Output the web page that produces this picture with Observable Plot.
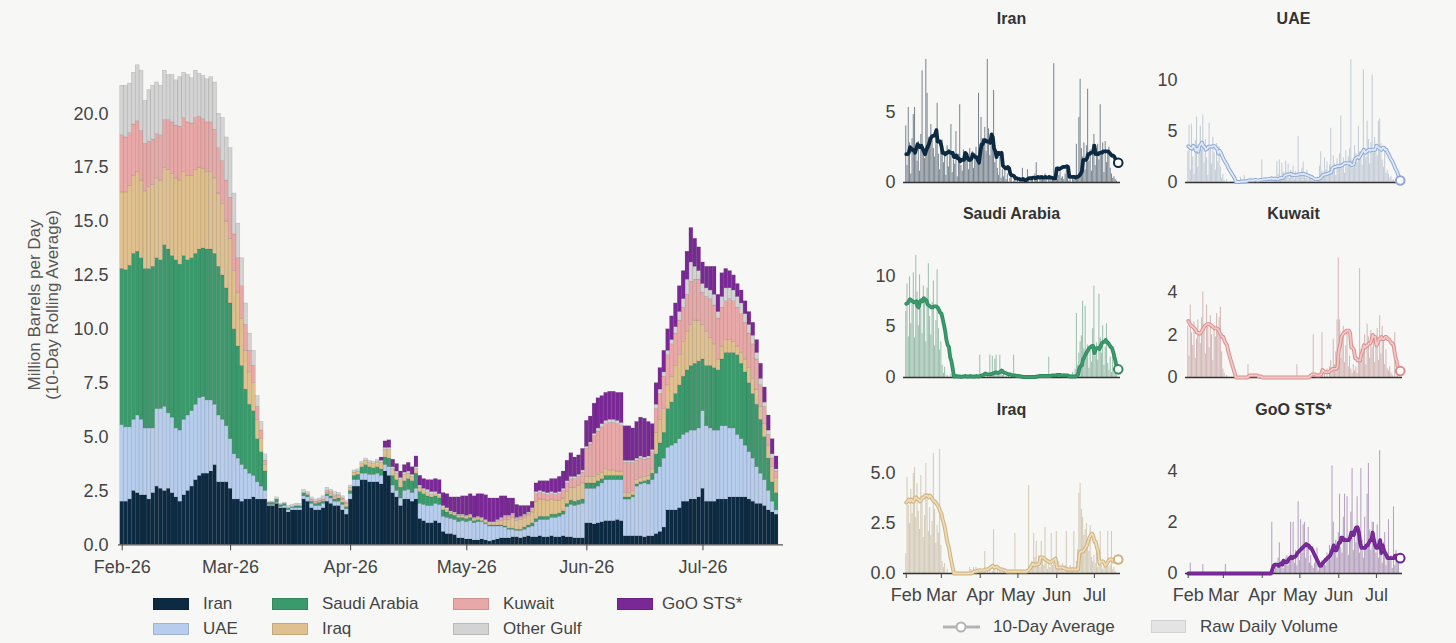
<!DOCTYPE html>
<html><head><meta charset="utf-8">
<script src="https://cdn.jsdelivr.net/npm/d3@7"></script>
<script src="https://cdn.jsdelivr.net/npm/@observablehq/plot@0.6"></script>
<style>
body{margin:0;background:#f7f8f6;font-family:"Liberation Sans",Arial,sans-serif;}
#root{position:relative;width:1456px;height:643px;overflow:hidden;background:#f7f8f6;}
.abs{position:absolute;}
.lbl{position:absolute;font-size:17px;line-height:20px;color:#444;white-space:nowrap;}
.sw{position:absolute;width:36px;height:12px;box-sizing:border-box;border:1px solid rgba(0,0,0,0.12);}
.ttl{position:absolute;font-size:16px;font-weight:bold;line-height:20px;color:#333;transform:translateX(-50%);white-space:nowrap;}
</style></head><body><div id="root"></div>
<script>
// ---------- DATA: 10-day rolling averages (million b/d), daily from 2026-02-01 ----------
const seriesNames = ["Iran","UAE","Saudi Arabia","Iraq","Kuwait","Other Gulf","GoO STS*"];
const seriesColors = ["#0c2a42","#b7cdee","#3a9a6c","#dfc08e","#e8a8a7","#d3d3d3","#7a2896"];

const iran = [
2.0,2.0,2.1,2.5,2.4,2.3,2.3,2.1,2.4,2.7,
2.6,2.5,2.6,2.4,2.2,2.0,2.3,2.5,2.7,3.0,
3.2,3.3,3.3,3.4,3.7,2.9,2.9,2.9,2.6,2.1,
2.1,2.0,2.1,2.1,2.2,2.1,2.1,2.1,1.8,1.8,
1.9,1.7,1.7,1.5,1.6,1.6,1.6,2.1,2.0,1.7,
1.6,1.6,1.7,2.0,1.9,1.8,1.8,1.6,1.4,2.1,
2.7,2.7,3.0,3.0,2.9,2.9,2.9,2.8,3.4,3.2,
2.4,2.2,1.8,2.1,2.1,2.0,2.1,1.2,1.1,1.0,
1.0,1.1,1.0,0.6,0.5,0.5,0.45,0.3,0.3,0.25,
0.25,0.2,0.2,0.25,0.2,0.15,0.2,0.25,0.3,0.3,
0.3,0.35,0.35,0.3,0.35,0.4,0.35,0.35,0.4,0.35,
0.35,0.4,0.35,0.35,0.4,0.35,0.35,0.3,0.3,0.3,
1.0,1.0,0.95,1.0,1.05,1.1,1.1,1.1,1.15,1.1,
0.4,0.4,0.4,0.4,0.4,0.35,0.4,0.4,0.5,0.6,
0.8,1.6,1.6,1.6,1.7,2.0,2.0,2.1,2.1,2.2,
2.6,2.0,2.0,2.0,2.1,2.1,2.1,2.2,2.2,2.2,
2.2,2.2,2.1,2.0,1.9,1.9,1.8,1.6,1.5,1.4];

const uae = [
3.55,3.45,3.35,3.3,3.6,3.5,3.1,3.3,3.0,3.6,
3.7,3.9,3.5,3.5,3.2,3.3,3.5,3.5,3.5,3.5,
3.6,3.55,3.4,3.3,2.8,3.1,2.9,2.6,2.3,2.1,
1.9,1.7,1.4,1.2,1.0,0.8,0.6,0.4,0.05,0.05,
0.05,0.05,0.1,0.1,0.1,0.1,0.1,0.15,0.2,0.2,
0.2,0.2,0.2,0.25,0.25,0.2,0.2,0.25,0.25,0.25,
0.3,0.3,0.3,0.3,0.35,0.35,0.4,0.4,0.3,0.4,
0.35,0.3,0.35,0.4,0.45,0.4,0.5,0.7,0.75,0.8,
0.8,0.8,0.85,0.7,0.75,0.7,0.7,0.75,0.8,0.8,
0.85,0.8,0.85,0.8,0.75,0.7,0.65,0.6,0.55,0.5,
0.4,0.35,0.3,0.35,0.35,0.4,0.5,0.7,0.75,0.8,
0.8,0.85,0.9,0.95,1.0,1.4,1.5,1.5,1.55,1.6,
1.6,1.6,1.65,1.7,1.8,1.9,1.9,1.9,1.85,1.9,
1.7,1.7,1.8,2.3,2.4,2.5,2.4,2.6,2.8,3.0,
3.2,2.9,3.0,3.1,3.2,3.1,3.2,3.2,3.2,3.2,
3.6,3.5,3.4,3.3,3.2,3.4,3.4,3.2,3.2,2.9,
2.7,2.4,2.2,2.0,1.7,1.4,1.2,0.9,0.5,0.2];

const saudi = [
7.25,7.3,7.5,7.7,7.6,7.5,7.4,7.4,7.5,7.0,
6.9,7.5,7.6,7.5,7.8,7.7,7.6,7.2,7.1,7.0,
6.9,6.9,7.0,7.0,7.0,6.9,6.7,6.4,6.3,5.8,
5.2,4.6,3.7,3.2,3.0,2.0,1.6,0.9,0.1,0.1,
0.15,0.1,0.1,0.1,0.05,0.1,0.1,0.15,0.1,0.1,
0.1,0.15,0.1,0.1,0.1,0.1,0.15,0.1,0.1,0.15,
0.2,0.25,0.3,0.4,0.35,0.3,0.3,0.3,0.35,0.4,
0.45,0.5,0.5,0.45,0.5,0.55,0.7,0.55,0.5,0.45,
0.4,0.35,0.3,0.3,0.25,0.2,0.2,0.2,0.15,0.15,
0.15,0.1,0.1,0.05,0.05,0.05,0.05,0.05,0.05,0.05,
0.05,0.05,0.05,0.05,0.1,0.1,0.15,0.15,0.15,0.15,
0.15,0.15,0.15,0.15,0.15,0.15,0.2,0.2,0.2,0.2,
0.25,0.25,0.25,0.25,0.2,0.2,0.2,0.2,0.2,0.2,
0.1,0.1,0.1,0.1,0.1,0.1,0.2,0.3,0.9,1.1,
1.2,1.8,2.0,2.3,2.5,2.7,2.9,3.0,3.1,3.1,
2.4,2.8,2.9,2.9,2.8,3.1,3.4,3.5,3.5,3.7,
3.5,3.4,3.2,3.0,2.9,2.5,2.0,1.5,0.9,0.8];

const iraq = [
3.55,3.6,3.7,3.6,3.7,3.6,3.6,3.8,3.8,3.7,
3.7,3.6,3.7,3.8,3.8,3.9,3.9,3.9,3.8,3.9,
3.8,3.7,3.6,3.6,3.5,3.4,3.3,3.1,3.0,2.7,
2.5,2.2,1.8,1.5,1.3,0.9,0.6,0.3,0.0,0.0,
0.0,0.0,0.0,0.0,0.0,0.0,0.0,0.0,0.0,0.0,
0.0,0.0,0.0,0.05,0.1,0.1,0.1,0.15,0.15,0.15,
0.15,0.15,0.15,0.2,0.2,0.2,0.25,0.3,0.35,0.4,
0.3,0.3,0.35,0.3,0.25,0.2,0.2,0.2,0.15,0.15,
0.1,0.1,0.1,0.1,0.1,0.1,0.1,0.1,0.1,0.1,
0.1,0.1,0.1,0.1,0.1,0.1,0.1,0.15,0.2,0.3,
0.4,0.5,0.4,0.45,0.45,0.45,0.5,0.8,0.8,0.8,
0.75,0.7,0.65,0.6,0.6,0.55,0.6,0.65,0.7,0.75,
0.3,0.3,0.3,0.3,0.3,0.3,0.25,0.25,0.2,0.2,
0.2,0.2,0.2,0.2,0.2,0.2,0.2,0.2,1.0,1.1,
1.1,1.1,1.2,1.3,1.4,1.6,1.8,1.9,2.0,1.9,
1.6,1.6,1.3,1.1,0.5,0.6,0.6,0.6,0.5,0.4,
0.5,0.6,0.7,0.7,0.7,0.6,0.6,0.6,0.7,0.7];

const kuwait = [
2.65,2.55,2.45,2.4,2.35,2.3,2.2,2.1,2.1,2.05,
2.1,2.2,2.3,2.4,2.45,2.5,2.5,2.5,2.45,2.4,
2.35,2.3,2.3,2.3,2.25,2.1,2.0,1.9,1.9,1.7,
1.6,1.5,1.2,1.0,0.8,0.6,0.4,0.2,0.0,0.0,
0.0,0.0,0.0,0.0,0.0,0.0,0.0,0.0,0.05,0.1,
0.1,0.1,0.1,0.1,0.1,0.1,0.05,0.05,0.05,0.0,
0.0,0.0,0.0,0.0,0.0,0.0,0.0,0.0,0.0,0.0,
0.0,0.0,0.0,0.0,0.0,0.0,0.0,0.0,0.0,0.0,
0.0,0.0,0.0,0.0,0.0,0.0,0.0,0.0,0.0,0.0,
0.0,0.0,0.0,0.0,0.0,0.0,0.0,0.05,0.1,0.15,
0.15,0.15,0.1,0.1,0.1,0.1,0.15,0.35,0.3,0.25,
0.25,0.25,0.25,0.3,0.35,0.4,0.4,0.4,0.4,0.5,
1.3,1.5,1.9,2.0,2.1,2.1,2.2,2.2,2.2,2.1,
1.4,1.4,1.3,0.9,0.9,0.8,0.8,0.8,1.1,1.2,
1.5,1.4,1.5,1.5,1.6,1.6,1.7,2.0,1.9,1.9,
1.5,1.6,1.8,1.8,1.9,1.8,1.8,1.9,1.9,1.8,
1.8,1.7,1.6,1.6,1.4,1.0,0.8,0.5,0.4,0.3];

const otherGulf = [
2.3,2.4,2.3,2.4,2.6,2.8,2.0,2.4,2.5,2.4,
2.3,2.3,2.1,2.2,2.1,2.3,2.1,2.2,2.1,2.2,
2.0,2.0,2.0,2.1,2.2,1.6,2.0,2.0,2.3,1.9,
1.6,1.3,1.0,0.8,0.7,0.5,0.4,0.3,0.05,0.05,
0.1,0.05,0.05,0.1,0.1,0.1,0.1,0.15,0.1,0.1,
0.1,0.1,0.15,0.15,0.1,0.15,0.1,0.1,0.1,0.1,
0.1,0.1,0.1,0.1,0.1,0.1,0.1,0.1,0.1,0.1,
0.1,0.1,0.1,0.1,0.1,0.1,0.1,0.1,0.1,0.15,
0.15,0.1,0.1,0.1,0.1,0.05,0.05,0.05,0.05,0.05,
0.05,0.05,0.05,0.05,0.05,0.05,0.05,0.05,0.05,0.05,
0.05,0.05,0.05,0.05,0.05,0.05,0.05,0.1,0.1,0.1,
0.1,0.1,0.1,0.1,0.1,0.1,0.1,0.1,0.1,0.1,
0.1,0.1,0.1,0.15,0.15,0.15,0.15,0.15,0.15,0.15,
0.1,0.1,0.1,0.1,0.1,0.1,0.1,0.1,0.2,0.2,
0.2,0.2,0.2,0.3,0.4,0.4,0.7,0.9,0.6,0.4,
0.4,0.4,0.4,0.5,0.3,0.5,0.6,0.5,0.5,0.5,
0.5,0.4,0.4,0.4,0.3,0.3,0.2,0.2,0.2,0.1];

const goo = [
0,0,0,0,0,0,0,0,0,0,
0,0,0,0,0,0,0,0,0,0,
0,0,0,0,0,0,0,0,0,0,
0,0,0,0,0,0,0,0,0,0,
0,0,0,0,0,0,0,0,0,0,
0,0,0,0,0,0,0,0,0,0,
0,0,0,0,0,0,0,0.15,0.3,0.35,
0.35,0.35,0.3,0.35,0.4,0.35,0.5,0.45,0.45,0.45,
0.55,0.6,0.65,0.6,0.65,0.65,0.7,0.8,0.85,0.9,
0.95,1.0,1.05,1.1,1.15,1.1,1.1,1.0,1.0,0.9,
0.8,0.7,0.6,0.5,0.4,0.3,0.3,0.4,0.45,0.5,
0.55,0.6,0.65,0.7,0.8,0.95,1.1,0.9,0.9,1.0,
1.2,1.2,1.4,1.4,1.3,1.3,1.3,1.3,1.3,1.4,
1.6,1.6,1.5,1.7,1.8,1.8,1.6,1.2,1.0,1.0,
1.0,1.0,1.1,1.1,1.2,1.3,1.3,1.6,1.3,1.1,
1.0,1.0,1.1,1.3,0.8,1.1,0.9,0.8,0.7,0.6,
0.6,0.6,0.6,0.6,0.6,0.7,0.7,0.7,0.7,0.6];

// ---------- DATA: raw daily volumes (million b/d) ----------
const iranRaw = [
4.0,1.2,5.3,2.8,0.6,3.1,4.8,5.3,2.2,1.5,
2.9,0.8,3.4,7.9,2.1,1.7,8.7,6.3,3.2,2.6,
4.1,3.0,2.4,1.8,3.6,5.6,2.0,0.9,2.7,3.0,
1.4,2.2,0.5,2.6,1.1,1.9,4.1,0.7,1.6,1.3,
3.6,0.4,2.0,5.5,1.2,0.8,2.3,2.1,2.0,1.5,
0.9,2.4,1.7,2.2,1.0,1.9,2.5,1.3,6.3,2.0,
4.6,3.1,2.7,3.9,2.2,8.7,3.8,1.9,2.6,3.0,
6.5,1.4,2.2,1.0,0.5,1.8,0.3,0.9,0.4,1.2,
0.2,0.6,0.0,0.3,0.5,0.0,0.1,0.4,0.0,0.2,
0.0,0.1,0.0,1.0,0.2,0.0,0.3,0.9,0.1,0.0,
0.4,0.2,0.0,0.6,1.4,0.3,0.0,0.5,0.2,0.4,
0.3,0.6,0.2,0.0,0.5,0.3,0.1,0.4,8.4,0.6,
0.8,0.2,0.5,0.8,0.3,0.4,0.2,0.6,0.9,0.5,
0.1,0.2,0.0,0.3,0.2,0.5,2.7,0.4,4.6,7.3,
2.4,1.8,2.8,0.9,2.6,6.6,1.5,2.3,0.8,2.7,
3.4,1.2,2.0,2.7,1.6,5.5,1.9,2.8,0.7,2.9,
1.4,2.2,2.5,1.0,0.6,0.3,0.4,0.2,0.1,0.0];

const uaeRaw = [
3.0,5.6,1.2,5.7,2.5,0.8,4.1,6.4,1.5,2.8,
5.5,3.2,6.6,1.9,4.2,2.4,0.7,5.8,3.6,1.8,
4.4,2.9,1.2,3.8,2.0,3.5,1.5,0.4,0.8,0.2,
0.0,0.3,0.0,0.0,0.1,0.0,0.0,0.0,0.0,0.0,
0.2,0.0,0.5,0.0,0.0,0.7,0.0,0.3,0.0,0.0,
0.4,0.0,0.0,0.3,0.0,0.0,0.2,0.0,0.0,2.2,
0.3,0.0,0.5,0.2,0.0,0.4,0.0,0.6,0.0,0.2,
0.5,2.0,0.8,2.2,0.3,1.9,1.0,0.4,2.1,0.6,
1.8,0.4,1.2,0.8,1.6,0.3,1.1,0.5,4.5,0.9,
0.6,1.4,2.0,0.7,0.4,1.2,0.3,0.8,0.5,0.2,
0.1,0.3,0.0,0.2,0.4,1.6,3.0,1.1,0.8,2.4,
1.2,2.0,0.9,1.7,5.3,1.4,2.6,1.8,0.7,2.3,
1.5,2.8,6.5,1.9,2.4,0.9,3.1,1.6,2.5,3.3,
12.0,2.2,1.4,3.6,2.8,1.9,5.5,3.0,2.6,1.7,
11.0,3.3,2.4,6.0,4.2,1.8,3.9,10.5,2.9,4.4,
3.1,2.6,6.0,6.2,3.8,2.2,1.5,3.4,0.9,1.2,
0.8,0.4,0.6,0.2,0.3,0.1,0.0,0.0,0.0,0.0];

const saudiRaw = [
6.5,9.2,4.0,9.9,5.3,7.6,10.3,3.9,12.0,8.4,
5.1,10.1,6.7,4.3,9.0,7.8,3.5,8.8,11.2,6.0,
4.2,7.4,9.5,3.1,5.6,10.6,4.8,2.7,3.5,1.2,
0.4,1.0,0.0,0.2,0.0,0.0,0.3,0.0,0.0,0.0,
0.0,0.2,0.0,0.0,0.0,0.0,0.0,0.0,0.0,0.0,
0.0,0.0,0.0,0.0,0.0,0.0,0.0,0.0,0.0,2.2,
0.0,0.3,0.0,0.2,0.0,0.4,0.0,2.2,0.5,2.1,
0.3,1.8,2.2,0.4,0.6,2.2,0.5,0.2,0.8,0.0,
0.1,0.0,0.3,0.0,0.0,0.0,2.2,0.0,0.1,0.0,
0.0,0.0,0.0,0.0,0.0,0.0,0.0,0.0,0.0,0.0,
0.0,0.1,0.0,0.0,0.2,0.0,0.0,0.3,0.0,0.0,
0.2,0.0,0.0,0.0,2.0,0.0,0.3,0.0,0.0,0.2,
0.0,0.3,0.0,0.0,0.2,0.0,0.4,0.0,0.0,0.3,
0.0,0.2,0.0,0.5,0.0,0.8,6.3,1.2,2.4,3.5,
4.1,7.5,2.8,7.0,1.9,3.2,0.9,2.6,1.5,4.8,
9.0,2.1,3.4,1.7,8.2,3.9,2.4,5.1,1.2,3.0,
5.3,1.4,0.7,2.0,0.5,2.3,0.4,2.3,0.2,0.0];

const kuwaitRaw = [
2.4,1.0,3.4,2.1,1.5,2.6,0.9,1.8,2.7,2.0,
1.6,2.8,4.0,2.2,1.1,3.4,2.5,1.4,2.9,2.0,
0.8,2.4,1.9,3.0,2.2,2.8,3.3,1.2,0.4,0.2,
0.0,0.1,0.0,0.0,0.0,0.0,0.0,0.0,0.0,0.0,
0.0,0.0,0.0,0.0,0.0,0.0,0.0,0.0,0.6,0.0,
0.0,0.0,0.0,0.0,0.0,0.0,0.0,0.0,0.0,0.0,
0.0,0.0,0.0,0.0,0.0,0.0,0.0,0.0,0.0,0.0,
0.0,0.0,0.0,0.0,0.0,0.0,0.0,0.0,0.0,0.0,
0.0,0.0,0.0,0.0,0.0,0.0,0.0,0.6,0.0,0.0,
0.0,0.0,0.0,0.0,0.0,0.0,0.0,0.0,0.0,0.1,
2.0,0.0,0.1,0.0,0.2,0.0,0.3,2.1,0.0,0.2,
0.0,0.4,0.0,0.5,0.8,0.3,1.8,0.6,1.2,2.7,
5.6,2.7,0.9,1.8,2.4,0.7,1.5,2.2,0.5,1.0,
0.4,0.2,0.6,0.3,0.5,0.2,0.9,5.1,1.3,0.8,
1.6,2.0,0.6,2.5,1.9,0.9,2.2,1.4,2.0,0.7,
1.5,2.3,0.8,2.9,1.1,2.4,1.7,0.6,1.3,0.4,
0.3,0.5,0.2,0.1,0.0,2.1,0.0,0.2,0.0,0.0];

const iraqRaw = [
1.0,4.8,3.4,2.5,4.2,3.0,5.0,5.3,2.8,4.5,
3.1,2.2,4.9,3.6,1.8,2.9,5.5,4.0,2.1,3.3,
1.9,2.6,6.0,3.2,1.5,2.4,2.0,6.2,1.4,0.6,
0.3,0.5,0.0,0.2,0.0,0.0,0.0,0.0,0.0,0.0,
0.0,0.0,0.0,0.0,0.0,0.0,0.0,0.0,0.0,0.0,
0.0,0.3,0.2,0.0,0.3,0.1,0.3,0.2,0.0,0.0,
0.2,0.0,0.1,1.1,0.0,0.2,0.0,0.3,0.0,0.1,
2.2,0.3,0.0,0.2,0.0,0.1,0.0,0.0,0.1,0.0,
0.0,0.1,0.0,0.0,0.0,0.0,0.0,2.0,0.0,0.0,
0.0,0.0,0.1,0.0,0.0,0.0,0.0,0.2,4.4,0.3,
0.6,0.4,2.0,0.8,1.6,0.5,0.9,0.3,1.6,0.7,
0.4,2.3,0.5,0.2,0.6,0.3,2.0,0.4,0.5,0.2,
2.1,0.4,0.6,0.3,0.2,0.5,0.1,0.4,2.1,0.3,
0.2,0.4,0.1,0.3,2.1,0.2,0.6,1.2,4.0,4.5,
3.2,2.8,1.9,2.2,2.5,1.6,1.1,2.4,0.8,0.6,
0.9,0.5,1.2,0.3,0.8,2.1,0.4,0.2,0.6,0.3,
0.5,2.1,0.3,0.4,2.1,0.2,0.3,0.1,0.0,0.0];

const gooRaw = [
0.0,0.0,0.4,0.0,0.0,0.0,0.0,0.0,0.0,0.0,
0.0,0.0,0.35,0.0,0.0,0.0,0.0,0.0,0.0,0.0,
0.0,0.0,0.0,0.0,0.0,0.0,0.0,0.0,0.0,0.0,
0.35,0.0,0.0,0.0,0.0,0.0,0.0,0.0,0.0,0.0,
0.0,0.0,0.0,0.0,0.0,0.0,0.0,0.0,0.0,0.0,
0.0,0.0,0.0,0.0,0.0,0.0,0.0,0.0,0.0,0.0,
0.0,0.0,0.0,0.0,0.0,0.0,0.0,2.0,0.3,0.1,
0.4,0.2,0.6,1.2,0.3,0.5,0.2,0.4,0.6,0.7,
0.3,0.5,2.0,0.6,2.0,0.4,0.9,0.3,2.8,0.5,
2.1,0.8,1.9,2.0,0.6,1.1,1.8,0.4,0.7,0.3,
0.2,0.4,0.6,1.0,0.1,0.3,0.2,0.5,0.4,0.6,
0.3,0.8,0.5,1.1,0.7,4.2,2.0,0.9,1.3,0.6,
1.6,3.1,1.0,0.8,2.2,3.1,1.4,3.0,0.7,1.5,
2.4,4.1,0.9,1.8,1.2,3.0,1.6,0.8,4.1,1.3,
0.6,2.2,1.0,3.1,4.3,1.7,0.9,2.0,2.0,1.1,
0.8,1.9,0.6,4.8,1.0,0.4,1.2,1.6,0.3,0.8,
2.1,0.5,0.7,0.2,2.6,0.3,0.9,0.4,0.6,0.0];

// ---------- tick labels ----------
const monthStartsISO = ["2026-02-01","2026-03-01","2026-04-01","2026-05-01","2026-06-01","2026-07-01"];
const mainMonthLabels = ["Feb-26","Mar-26","Apr-26","May-26","Jun-26","Jul-26"];
const smallMonthLabels = ["Feb","Mar","Apr","May","Jun","Jul"];
const mainYTicks = [0,2.5,5,7.5,10,12.5,15,17.5,20];

// ---------- build ----------
const FONT = '"Liberation Sans", Arial, Helvetica, sans-serif';
const DAY = 864e5;
const t0 = Date.UTC(2026,1,1);
const day = i => new Date(t0 + i*DAY);
const monthStarts = monthStartsISO.map(s => new Date(s + "T00:00:00Z"));
const mainLabelMap = new Map(monthStarts.map((d,i)=>[+d, mainMonthLabels[i]]));
const smallLabelMap = new Map(monthStarts.map((d,i)=>[+d, smallMonthLabels[i]]));
const root = document.getElementById("root");

function place(el, left, top){
  const w = document.createElement("div");
  w.className = "abs"; w.style.left = left+"px"; w.style.top = top+"px";
  w.appendChild(el); root.appendChild(w); return w;
}
function addText(cls, text, left, top, extra){
  const d = document.createElement("div"); d.className = cls; d.textContent = text;
  d.style.left = left+"px"; d.style.top = top+"px";
  if (extra) Object.assign(d.style, extra);
  root.appendChild(d); return d;
}

const avgSeries = [iran, uae, saudi, iraq, kuwait, otherGulf, goo];
const stackRows = [];
seriesNames.forEach((name,k) => avgSeries[k].forEach((v,i) => stackRows.push({name, x1: day(i-0.5), x2: day(i+0.5), v})));

const mainPlot = Plot.plot({
  width: 800, height: 590,
  marginLeft: 118, marginRight: 17, marginTop: 48.6, marginBottom: 45.7,
  style: {fontFamily: FONT, fontSize: "18px", color: "#444", background: "transparent", overflow: "visible"},
  x: {type: "utc", domain: [day(-0.956), day(170.8)]},
  y: {domain: [0, 23]},
  color: {domain: seriesNames, range: seriesColors},
  marks: [
    Plot.rectY(stackRows, {x1: "x1", x2: "x2", y: "v", fill: "name", order: seriesNames,
      stroke: "#2a2a2a", strokeOpacity: 0.22, strokeWidth: 0.5}),
    Plot.ruleY([0], {stroke: "#555", strokeWidth: 1.2}),
    Plot.axisY({ticks: mainYTicks, tickFormat: d3.format(".1f"), tickSize: 0, tickPadding: 10, label: null}),
    Plot.axisX({ticks: monthStarts, tickFormat: d => mainLabelMap.get(+d), tickSize: 6, tickPadding: 9, label: null})
  ]
});
place(mainPlot, 0, 0);

// y label
const yl = document.createElement("div");
yl.className = "abs";
Object.assign(yl.style, {left: "44px", top: "305px", transform: "translate(-50%,-50%) rotate(-90deg)",
  fontSize: "17px", lineHeight: "18px", color: "#555", textAlign: "center", whiteSpace: "nowrap"});
yl.innerHTML = "Million Barrels per Day<br>(10-Day Rolling Average)";
root.appendChild(yl);

// main legend
const legCols = [[153,203],[272,322],[453,503],[617,662]];
const legRows = [604, 628.5];
const legItems = [["Iran",0,0],["Saudi Arabia",1,0],["Kuwait",2,0],["GoO STS*",3,0],["UAE",0,1],["Iraq",1,1],["Other Gulf",2,1]];
legItems.forEach(([name,c,r]) => {
  const sw = document.createElement("div"); sw.className = "sw";
  sw.style.left = legCols[c][0]+"px"; sw.style.top = (legRows[r]-6)+"px";
  sw.style.background = seriesColors[seriesNames.indexOf(name)];
  root.appendChild(sw);
  addText("lbl", name, legCols[c][1], legRows[r]-10);
});

// small multiples
const panels = [
  {name:"Iran", raw: iranRaw, avg: iran, ymax: 9.05, ticks:[0,5], fmt: d3.format("d"), col:0, row:0, rawColor:"#63707c", outer:"#0c2a42", inner:"#0c2a42", dot:"#0c2a42"},
  {name:"UAE", raw: uaeRaw, avg: uae, ymax: 12.5, ticks:[0,5,10], fmt: d3.format("d"), col:1, row:0, rawColor:"#b9c2cf", outer:"#8ea8d4", inner:"#dde8f8", dot:"#8ea8d4"},
  {name:"Saudi Arabia", raw: saudiRaw, avg: saudi, ymax: 12.6, ticks:[0,5,10], fmt: d3.format("d"), col:0, row:1, rawColor:"#88b39e", outer:"#2f8a5f", inner:"#3c9c6e", dot:"#2f8a5f"},
  {name:"Kuwait", raw: kuwaitRaw, avg: kuwait, ymax: 6.0, ticks:[0,2,4], fmt: d3.format("d"), col:1, row:1, rawColor:"#cbaaa9", outer:"#d98e8d", inner:"#f3c8c7", dot:"#d98e8d"},
  {name:"Iraq", raw: iraqRaw, avg: iraq, ymax: 6.4, ticks:[0,2.5,5], fmt: d3.format(".1f"), col:0, row:2, rawColor:"#cdc1ab", outer:"#cdb07c", inner:"#efdcb6", dot:"#cdb07c"},
  {name:"GoO STS*", raw: gooRaw, avg: goo, ymax: 5.0, ticks:[0,2,4], fmt: d3.format("d"), col:1, row:2, rawColor:"#a88eb4", outer:"#6e2290", inner:"#7a2c9a", dot:"#6e2290"}
];
const colLeft = [853, 1135];
const rowZero = [181.5, 376.5, 572.5];
const titleY = [19, 214, 410];
const colCenter = [1011.5, 1293.5];

panels.forEach(p => {
  const rawRows = p.raw.map((v,i) => ({x1: day(i-0.4), x2: day(i+0.4), v}));
  const avgRows = p.avg.map((v,i) => ({date: day(i), v}));
  const last = avgRows[avgRows.length-1];
  const bottom = p.row === 2;
  const marks = [
    Plot.rectY(rawRows, {x1:"x1", x2:"x2", y:"v", fill: p.rawColor, fillOpacity: 0.85}),
    Plot.ruleY([0], {stroke: "#333", strokeWidth: 1.6}),
    Plot.lineY(avgRows, {x:"date", y:"v", stroke: p.outer, strokeWidth: 3.8}),
    Plot.lineY(avgRows, {x:"date", y:"v", stroke: p.inner, strokeWidth: 1.8}),
    Plot.dot([last], {x:"date", y:"v", r: 4.3, fill: "white", stroke: p.dot, strokeWidth: 2}),
    Plot.axisY({ticks: p.ticks, tickFormat: p.fmt, tickSize: 0, tickPadding: 8, label: null})
  ];
  if (bottom) marks.push(Plot.axisX({ticks: monthStarts, tickFormat: d => smallLabelMap.get(+d), tickSize: 5, tickPadding: 10, label: null}));
  const svg = Plot.plot({
    width: 282, height: 173, marginLeft: 50, marginRight: 15, marginTop: 10, marginBottom: 35,
    style: {fontFamily: FONT, fontSize: "18px", color: "#444", background: "transparent", overflow: "visible"},
    x: {type: "utc", domain: [day(-2.2), day(170.8)], axis: bottom ? undefined : null},
    y: {domain: [0, p.ymax]},
    marks
  });
  place(svg, colLeft[p.col], rowZero[p.row] - 138);
  addText("ttl", p.name, colCenter[p.col], titleY[p.row] - 10);
});

// small-multiple legend
const ns = "http://www.w3.org/2000/svg";
const ls = document.createElementNS(ns, "svg");
ls.setAttribute("width", 40); ls.setAttribute("height", 20);
ls.innerHTML = '<line x1="1" y1="10" x2="38" y2="10" stroke="#b3b3b3" stroke-width="3"/><circle cx="19" cy="10" r="4.5" fill="#fff" stroke="#b3b3b3" stroke-width="2"/>';
place(ls, 942, 617);
addText("lbl", "10-Day Average", 993, 617);
const rsw = document.createElement("div"); rsw.className = "abs";
Object.assign(rsw.style, {left:"1151px", top:"620px", width:"35px", height:"13px", background:"#e4e4e4", border:"1px solid #d2d2d2", boxSizing:"border-box"});
root.appendChild(rsw);
addText("lbl", "Raw Daily Volume", 1200, 617);
</script>
</body></html>
